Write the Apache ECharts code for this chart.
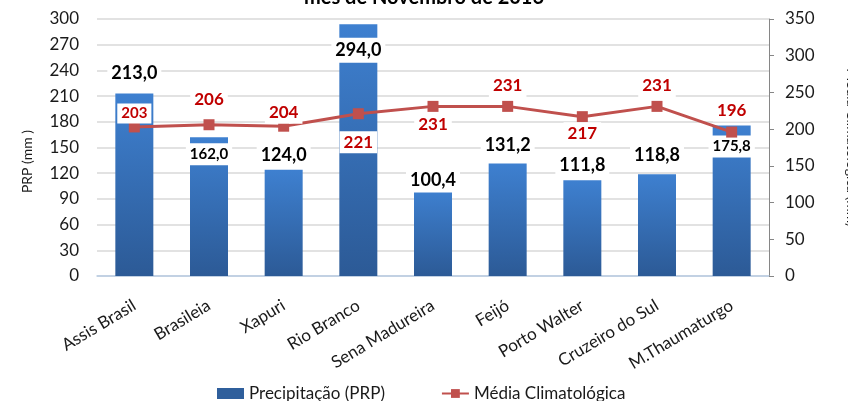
<!DOCTYPE html>
<html>
<head>
<meta charset="utf-8">
<script src="https://cdn.jsdelivr.net/npm/echarts@6/dist/echarts.min.js"></script>
<style>
html,body{margin:0;padding:0;background:#fff;}
#c{width:848px;height:401px;}
</style>
</head>
<body>
<div id="c"></div>
<script>
const titleText = 'mês de Novembro de 2016';
const categories = ['Assis Brasil','Brasileia','Xapuri','Rio Branco','Sena Madureira','Feijó','Porto Walter','Cruzeiro do Sul','M.Thaumaturgo'];
const precip = [213.0, 162.0, 124.0, 294.0, 100.4, 131.2, 111.8, 118.8, 175.8];
const climat = [203, 206, 204, 221, 231, 231, 217, 231, 196];
const leftMax = 300, leftStep = 30;
const rightMax = 350, rightStep = 50;

// label placement (style only, not data)
const precipLabelDy = [-20, 17, -15, 26, -10, -18, -15, -19, 21];
const precipLabelSize = [18, 15, 18, 18, 18, 18, 18, 18, 15];
const climatLabelDy = [-8, -20, -8, 34, 24, -15, 22, -15, -16];
const climatLabelSize = [15, 17, 17, 17, 17, 17, 17, 17, 17];

const FONT = 'Lato, "Open Sans", sans-serif';
const barGrad = new echarts.graphic.LinearGradient(0,0,0,1,[
  {offset:0,color:'#3e80d0'},{offset:1,color:'#2c5a96'}]);

const barData = precip.map((v,i)=>({
  value:v,
  label:{offset:[0,precipLabelDy[i]], fontSize:precipLabelSize[i]}
}));
const lineData = climat.map((v,i)=>({
  value:v,
  label:{offset:[0,climatLabelDy[i]], fontSize:climatLabelSize[i]}
}));

const chart = echarts.init(document.getElementById('c'), null, {renderer:'canvas'});
chart.setOption({
  animation:false,
  backgroundColor:'#fff',
  textStyle:{fontFamily:FONT},
  title:{
    text:titleText, left:304, top:-12, padding:0,
    textStyle:{fontFamily:FONT, fontSize:20, fontWeight:'bold', color:'#000'}
  },
  grid:{left:97, right:79, top:19, bottom:125, containLabel:false, outerBoundsMode:'none'},
  legend:{
    left:212, top:380, itemGap:56, itemWidth:27, itemHeight:11,
    textStyle:{fontFamily:FONT, fontSize:17, color:'#1a1a1a'},
    data:[
      {name:'Precipitação (PRP)', icon:'rect', itemStyle:{color:'#2f5f9c'}},
      {name:'Média Climatológica'}
    ]
  },
  xAxis:{
    type:'category', data:categories,
    axisLine:{show:true, lineStyle:{color:'#b8cce4', width:1.5}},
    axisTick:{show:false},
    axisLabel:{rotate:31, margin:28, fontFamily:FONT, fontSize:17, color:'#1a1a1a', interval:0}
  },
  yAxis:[
    {
      type:'value', min:0, max:leftMax, interval:leftStep,
      name:'PRP (mm )', nameLocation:'middle', nameGap:63, nameRotate:90,
      nameTextStyle:{fontFamily:FONT, fontSize:14, color:'#1a1a1a', padding:[0,28,0,0]},
      axisLine:{show:false}, axisTick:{show:false},
      axisLabel:{margin:18, fontFamily:FONT, fontSize:17, color:'#1a1a1a'},
      splitLine:{lineStyle:{color:'#d9d9d9', width:1.5}}
    },
    {
      type:'value', min:0, max:rightMax, interval:rightStep, position:'right',
      name:'Média Climatológica (mm)', nameLocation:'middle', nameGap:76, nameRotate:-90,
      nameTextStyle:{fontFamily:FONT, fontSize:14, color:'#1a1a1a'},
      axisLine:{show:true, lineStyle:{color:'#868686', width:1}},
      axisTick:{show:true, length:5, inside:false, lineStyle:{color:'#868686'}},
      axisLabel:{margin:16, fontFamily:FONT, fontSize:17, color:'#1a1a1a'},
      splitLine:{show:false}
    }
  ],
  series:[
    {
      name:'Precipitação (PRP)', type:'bar', yAxisIndex:0, barWidth:38,
      data:barData,
      itemStyle:{color:barGrad},
      z:2,
      label:{
        show:true, position:'top', distance:0, verticalAlign:'middle',
        fontFamily:FONT, fontWeight:'bold', color:'#000',
        backgroundColor:'#fff', padding:[4,4,3,4],
        formatter:p=>p.value.toFixed(1).replace('.',',')
      }
    },
    {
      name:'Média Climatológica', type:'line', yAxisIndex:1,
      data:lineData,
      symbol:'rect', symbolSize:11,
      lineStyle:{color:'#c0504d', width:3},
      itemStyle:{color:'#c0504d'},
      z:3,
      label:{
        show:true, position:'top', distance:0, verticalAlign:'middle',
        fontFamily:FONT, fontWeight:'bold', color:'#c00000',
        backgroundColor:'#fff', padding:[3,4,2,4],
        formatter:p=>String(p.value)
      }
    }
  ]
});
</script>
</body>
</html>
